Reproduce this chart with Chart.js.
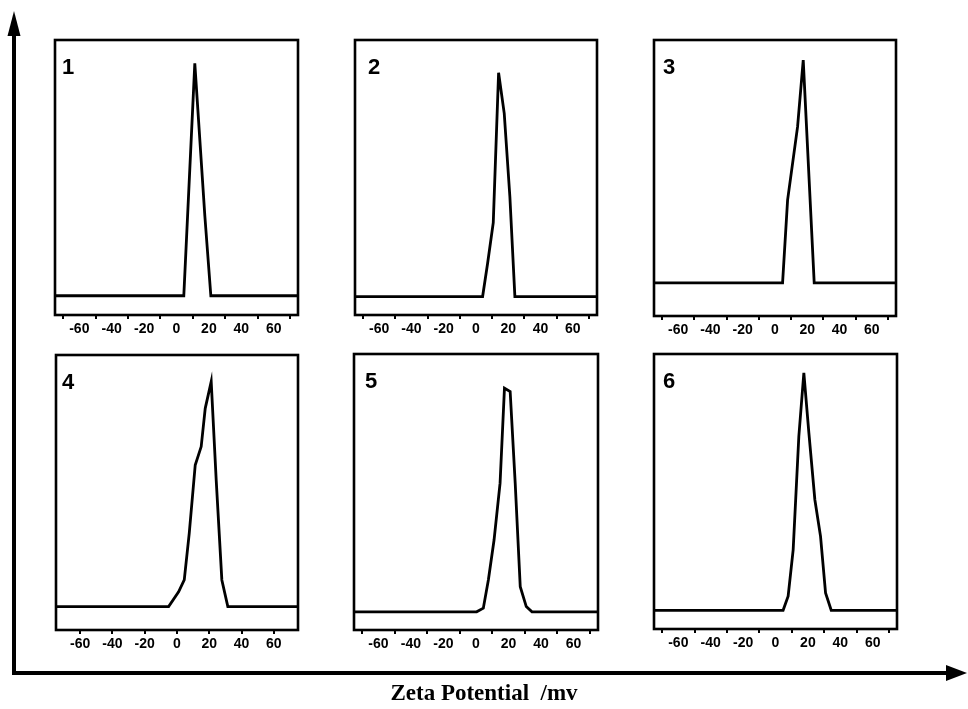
<!DOCTYPE html>
<html>
<head>
<meta charset="utf-8">
<script src="https://cdn.jsdelivr.net/npm/chart.js@4.4.1/dist/chart.umd.min.js"></script>
<style>
  html, body { margin: 0; padding: 0; background: #fff; }
  #wrap { position: relative; width: 968px; height: 709px; overflow: hidden; background: #fff; }
  .pc { position: absolute; }
  #arrows { position: absolute; left: 0; top: 0; }
  #xtitle { position: absolute; left: 0; width: 968px; top: 680px; text-align: center;
    font: bold 23px "Liberation Serif", "Times New Roman", serif; color: #000; white-space: pre; }
</style>
</head>
<body>
<div id="wrap">
  <canvas id="arrows" width="968" height="709"></canvas>
  <div id="xtitle">Zeta Potential  /mv</div>
</div>
<script>
// ---- data (x: zeta potential in mV, y: relative intensity in % of panel height) ----
const panelNames = ["1", "2", "3", "4", "5", "6"];
const tickLabels = [-60, -40, -20, 0, 20, 40, 60];
const minorTicks = [-70, -50, -30, -10, 10, 30, 50, 70];
const xMin = -75, xMax = 75;

const zeta1 = [-75, 4.5, 11.3, 17.5, 21.2, 75];
const int1  = [7.0, 7.0, 91.5, 36.0, 7.0, 7.0];

const zeta2 = [-75, 4.1, 7.2, 10.7, 14.0, 17.5, 21.0, 24.1, 75];
const int2  = [6.7, 6.7, 18.8, 33.6, 88.1, 73.3, 43.0, 6.7, 6.7];

const zeta3 = [-75, 4.7, 7.8, 14.0, 17.5, 24.3, 75];
const int3  = [12.0, 12.0, 42.0, 68.6, 92.7, 12.0, 12.0];

const zeta4 = [-75, -5.2, 1.0, 4.5, 7.6, 11.3, 15.0, 17.5, 21.2, 24.3, 27.8, 31.5, 75];
const int4  = [8.5, 8.5, 13.9, 18.2, 35.2, 60.0, 66.7, 80.6, 90.3, 54.5, 18.2, 8.5, 8.5];

const zeta5 = [-75, 0.4, 4.5, 7.6, 11.1, 14.8, 17.5, 21.0, 24.1, 27.2, 30.9, 34.4, 75];
const int5  = [6.6, 6.6, 7.9, 18.1, 32.6, 53.2, 87.6, 86.4, 53.2, 15.7, 8.5, 6.6, 6.6];

const zeta6 = [-75, 4.7, 7.8, 10.9, 14.4, 17.5, 20.6, 24.3, 27.8, 30.9, 34.4, 75];
const int6  = [6.8, 6.8, 11.9, 28.8, 70.0, 93.1, 71.3, 47.0, 33.7, 13.1, 6.8, 6.8];

const zetaSeries = [zeta1, zeta2, zeta3, zeta4, zeta5, zeta6];
const intSeries  = [int1, int2, int3, int4, int5, int6];

// ---- layout (plot box in page pixels) ----
const boxes = [
  { l: 55,  t: 40,  r: 298, b: 315, dx: 7,  minor: true },
  { l: 355, t: 40,  r: 597, b: 315, dx: 13, minor: true },
  { l: 654, t: 40,  r: 896, b: 316, dx: 9,  minor: true },
  { l: 56,  t: 355, r: 298, b: 630, dx: 6,  minor: false },
  { l: 354, t: 354, r: 598, b: 630, dx: 11, minor: true },
  { l: 654, t: 354, r: 897, b: 629, dx: 9,  minor: true }
];
const PAD = 12, BOTTOM = 42;

const frame = {
  id: 'frame',
  afterDraw(chart, args, opts) {
    const { ctx, chartArea: a } = chart;
    ctx.save();
    ctx.strokeStyle = '#000';
    ctx.lineWidth = 2.6;
    ctx.strokeRect(a.left, a.top, a.right - a.left, a.bottom - a.top);
    ctx.fillStyle = '#000';
    ctx.font = 'bold 22px "Liberation Sans", Arial, sans-serif';
    ctx.textBaseline = 'alphabetic';
    ctx.fillText(opts.label, a.left + opts.dx, a.top + 34);
    ctx.restore();
  }
};

const wrap = document.getElementById('wrap');
boxes.forEach((bx, i) => {
  const cv = document.createElement('canvas');
  cv.className = 'pc';
  const w = (bx.r - bx.l) + 2 * PAD;
  const h = (bx.b - bx.t) + PAD + BOTTOM;
  cv.style.left = (bx.l - PAD) + 'px';
  cv.style.top = (bx.t - PAD) + 'px';
  cv.style.width = w + 'px';
  cv.style.height = h + 'px';
  cv.width = w; cv.height = h;
  wrap.appendChild(cv);

  const pts = zetaSeries[i].map((x, k) => ({ x: x, y: intSeries[i][k] }));
  const markVals = bx.minor ? minorTicks : tickLabels;
  const tickVals = minorTicks.concat(tickLabels).sort((a, b) => a - b);

  new Chart(cv, {
    type: 'line',
    data: {
      datasets: [{
        data: pts,
        borderColor: '#000',
        borderWidth: 2.8,
        pointRadius: 0,
        tension: 0,
        fill: false,
        borderJoinStyle: 'miter'
      }]
    },
    options: {
      responsive: false,
      animation: false,
      devicePixelRatio: 1,
      layout: { padding: { left: PAD, right: PAD, top: PAD, bottom: 0 } },
      plugins: {
        legend: { display: false },
        tooltip: { enabled: false },
        frame: { label: panelNames[i], dx: bx.dx }
      },
      scales: {
        x: {
          type: 'linear',
          min: xMin, max: xMax,
          afterFit(scale) { scale.height = BOTTOM; },
          afterBuildTicks(scale) { scale.ticks = tickVals.map(v => ({ value: v })); },
          border: { display: false },
          grid: {
            drawOnChartArea: false,
            drawTicks: true,
            tickLength: 4,
            lineWidth: 2,
            color: (c) => (c.tick && markVals.includes(c.tick.value)) ? '#000' : 'rgba(0,0,0,0)'
          },
          ticks: {
            autoSkip: false,
            maxRotation: 0,
            padding: 2,
            color: '#000',
            font: { family: '"Liberation Sans", Arial, sans-serif', size: 14, weight: 'bold' },
            callback: (v) => tickLabels.includes(v) ? String(v) : ''
          }
        },
        y: {
          display: false,
          min: 0, max: 100
        }
      }
    },
    plugins: [frame]
  });
});

// big axes arrows
const ac = document.getElementById('arrows').getContext('2d');
ac.fillStyle = '#000';
ac.strokeStyle = '#000';
ac.lineWidth = 4;
ac.beginPath(); ac.moveTo(14, 30); ac.lineTo(14, 675); ac.stroke();
ac.beginPath(); ac.moveTo(12, 673); ac.lineTo(950, 673); ac.stroke();
ac.beginPath(); ac.moveTo(14, 11); ac.lineTo(7.5, 36); ac.lineTo(20.5, 36); ac.closePath(); ac.fill();
ac.beginPath(); ac.moveTo(967, 673); ac.lineTo(946, 665); ac.lineTo(946, 681); ac.closePath(); ac.fill();
</script>
</body>
</html>
